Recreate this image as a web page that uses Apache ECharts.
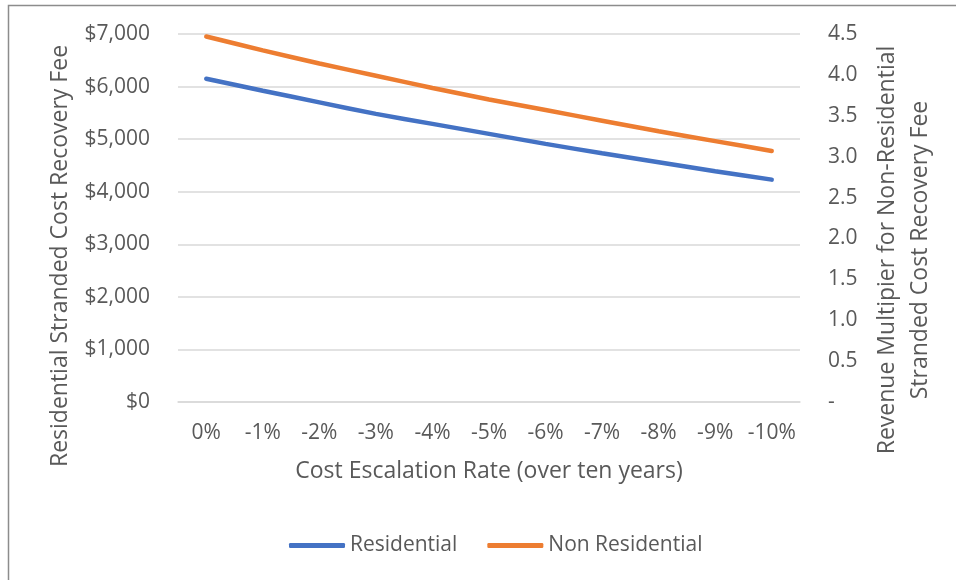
<!DOCTYPE html>
<html>
<head>
<meta charset="utf-8">
<script src="https://cdn.jsdelivr.net/npm/echarts@6/dist/echarts.min.js"></script>
<style>
  html, body { margin: 0; padding: 0; background: #fff; }
  #chart { width: 956px; height: 580px; }
</style>
</head>
<body>
<div id="chart"></div>
<script>
const categories = ['0%', '-1%', '-2%', '-3%', '-4%', '-5%', '-6%', '-7%', '-8%', '-9%', '-10%']
const residential = [6150, 5920, 5700, 5480, 5290, 5100, 4910, 4730, 4560, 4390, 4230]
const nonResidential = [4.47, 4.30, 4.14, 3.99, 3.84, 3.70, 3.57, 3.44, 3.31, 3.19, 3.07]

const textColor = '#595959'
const font = '"Open Sans", "Noto Sans", sans-serif'
const tickSize = 21
const titleSize = 23

const chart = echarts.init(document.getElementById('chart'))

chart.setOption({
  animation: false,
  color: ['#4472C4', '#ED7D31'],
  textStyle: { fontFamily: font, color: textColor },
  grid: { left: 178, right: 156, top: 34, bottom: 178 },
  legend: {
    bottom: 19,
    left: 284,
    itemWidth: 56,
    itemHeight: 5,
    itemGap: 30,
    icon: 'roundRect',
    textStyle: { fontSize: tickSize, color: textColor, fontFamily: font },
    data: ['Residential', 'Non Residential'],
  },
  xAxis: {
    type: 'category',
    data: categories,
    axisLine: { lineStyle: { color: '#D9D9D9', width: 1.5 } },
    axisTick: { show: false },
    axisLabel: { fontSize: tickSize, color: textColor, margin: 21, interval: 0 },
  },
  yAxis: [
    {
      type: 'value',
      min: 0,
      max: 7000,
      interval: 1000,
      axisLine: { show: false },
      axisTick: { show: false },
      axisLabel: {
        fontSize: tickSize,
        color: textColor,
        margin: 28,
        formatter: (v) => '$' + v.toLocaleString('en-US'),
      },
      splitLine: { lineStyle: { color: '#D9D9D9', width: 1.5 } },
    },
    {
      type: 'value',
      min: 0,
      max: 4.5,
      interval: 0.5,
      axisLine: { show: false },
      axisTick: { show: false },
      splitLine: { show: false },
      axisLabel: {
        fontSize: tickSize,
        color: textColor,
        margin: 28,
        formatter: (v) => (v === 0 ? '-' : v.toFixed(1)),
      },
    },
  ],
  series: [
    {
      name: 'Residential',
      type: 'line',
      yAxisIndex: 0,
      data: residential,
      smooth: 0.2,
      showSymbol: false,
      lineStyle: { width: 4.5, cap: 'round' },
    },
    {
      name: 'Non Residential',
      type: 'line',
      yAxisIndex: 1,
      data: nonResidential,
      smooth: 0.2,
      showSymbol: false,
      lineStyle: { width: 4.5, cap: 'round' },
    },
  ],
  graphic: [
    {
      type: 'rect',
      shape: { x: 8.5, y: 5.5, width: 1200, height: 1200 },
      style: { fill: 'none', stroke: '#8C8C8C', lineWidth: 1.5 },
      silent: true,
    },
    {
      type: 'text',
      x: 60,
      y: 256,
      rotation: Math.PI / 2,
      style: {
        text: 'Residential Stranded Cost Recovery Fee',
        fontSize: titleSize,
        fontFamily: font,
        fill: textColor,
        align: 'center',
        verticalAlign: 'middle',
      },
    },
    {
      type: 'text',
      x: 489,
      y: 471,
      style: {
        text: 'Cost Escalation Rate (over ten years)',
        fontSize: titleSize,
        fontFamily: font,
        fill: textColor,
        align: 'center',
        verticalAlign: 'middle',
      },
    },
    {
      type: 'text',
      x: 904,
      y: 250,
      rotation: Math.PI / 2,
      style: {
        text: 'Revenue Multipier for Non-Residential\nStranded Cost Recovery Fee',
        fontSize: titleSize,
        lineHeight: 33,
        fontFamily: font,
        fill: textColor,
        align: 'center',
        verticalAlign: 'middle',
      },
    },
  ],
})
</script>
</body>
</html>
